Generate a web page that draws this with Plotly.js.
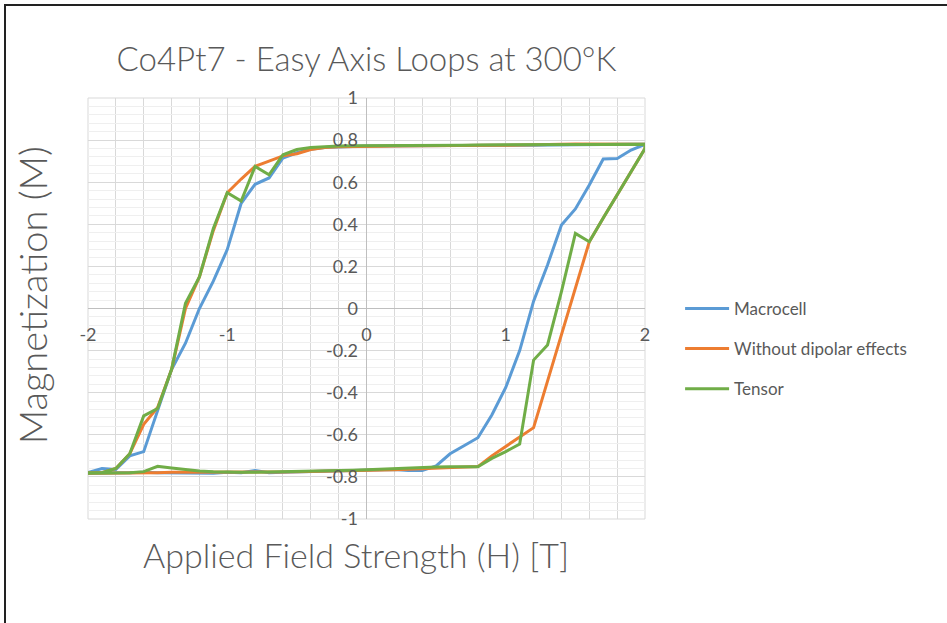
<!DOCTYPE html>
<html>
<head>
<meta charset="utf-8">
<script src="https://cdn.plot.ly/plotly-3.0.1.min.js"></script>
<style>
  html, body { margin:0; padding:0; background:#fff; }
  #wrap { position:relative; width:947px; height:623px; }
  #chart { position:absolute; left:0; top:0; width:947px; height:623px; }
  #frame { position:absolute; left:4px; top:4px; width:943px; height:619px;
           border-top:2px solid #222; border-left:2px solid #222; box-sizing:border-box; pointer-events:none; }
</style>
</head>
<body>
<div id="wrap"><div id="chart"></div><div id="frame"></div></div>
<script>
// Applied field H [T], -2 .. 2
const H = [-2.0,-1.9,-1.8,-1.7,-1.6,-1.5,-1.4,-1.3,-1.2,-1.1,-1.0,-0.9,-0.8,-0.7,-0.6,-0.5,-0.4,-0.3,-0.2,-0.1,0.0,
           0.1,0.2,0.3,0.4,0.5,0.6,0.7,0.8,0.9,1.0,1.1,1.2,1.3,1.4,1.5,1.6,1.7,1.8,1.9,2.0];

// Lower (ascending field) branches, listed from H=-2 to H=2
const macroLower = [-0.783,-0.78,-0.78,-0.78,-0.778,-0.78,-0.78,-0.78,-0.783,-0.783,-0.778,-0.78,-0.77,-0.78,-0.778,-0.776,-0.775,-0.773,-0.772,-0.77,-0.767,
                    -0.765,-0.765,-0.77,-0.77,-0.748,-0.69,-0.652,-0.614,-0.506,-0.375,-0.2,0.035,0.207,0.397,0.473,0.587,0.71,0.713,0.753,0.78];
const noDipLower = [-0.783,-0.783,-0.783,-0.783,-0.783,-0.78,-0.778,-0.778,-0.778,-0.78,-0.78,-0.78,-0.779,-0.778,-0.777,-0.776,-0.775,-0.774,-0.773,-0.772,-0.77,
                    -0.768,-0.766,-0.764,-0.762,-0.76,-0.757,-0.754,-0.751,-0.70,-0.656,-0.609,-0.566,-0.345,-0.124,0.097,0.317,0.43,0.54,0.65,0.76];
const tensorLower = [-0.783,-0.783,-0.783,-0.78,-0.775,-0.75,-0.758,-0.766,-0.772,-0.776,-0.778,-0.778,-0.778,-0.777,-0.776,-0.775,-0.774,-0.772,-0.77,-0.768,-0.766,
                     -0.763,-0.76,-0.757,-0.755,-0.753,-0.752,-0.752,-0.752,-0.712,-0.68,-0.644,-0.245,-0.173,0.08,0.357,0.317,0.43,0.54,0.65,0.76];

// Upper (descending field) branches, listed from H=-2 to H=2
const macroUpper = [-0.78,-0.76,-0.765,-0.70,-0.68,-0.48,-0.29,-0.165,0.0,0.13,0.28,0.50,0.59,0.62,0.715,0.74,0.757,0.765,0.768,0.77,0.772,
                    0.772,0.772,0.773,0.773,0.773,0.774,0.774,0.774,0.775,0.775,0.775,0.776,0.777,0.778,0.778,0.779,0.779,0.78,0.78,0.78];
const noDipUpper = [-0.78,-0.78,-0.76,-0.69,-0.55,-0.47,-0.29,0.0,0.15,0.37,0.55,0.615,0.675,0.70,0.725,0.735,0.755,0.765,0.768,0.77,0.771,
                    0.771,0.772,0.772,0.773,0.773,0.774,0.774,0.775,0.775,0.775,0.776,0.777,0.778,0.78,0.782,0.784,0.783,0.782,0.781,0.78];
const tensorUpper = [-0.78,-0.78,-0.76,-0.69,-0.51,-0.475,-0.29,0.025,0.15,0.38,0.55,0.51,0.675,0.635,0.73,0.755,0.765,0.77,0.772,0.773,0.774,
                     0.774,0.775,0.775,0.775,0.776,0.776,0.776,0.777,0.777,0.777,0.778,0.778,0.778,0.779,0.779,0.78,0.78,0.78,0.78,0.78];

// Tick labels (hyphen minus as in the original)
const xTickVals = [-2, -1, 0, 1, 2];
const xTickText = ["-2", "-1", "0", "1", "2"];
const yTickVals = [-1, -0.8, -0.6, -0.4, -0.2, 0, 0.2, 0.4, 0.6, 0.8, 1];
const yTickText = ["-1", "-0.8", "-0.6", "-0.4", "-0.2", "0", "0.2", "0.4", "0.6", "0.8", "1"];

const names = ["Macrocell", "Without dipolar effects", "Tensor"];
const colors = ["#5B9BD5", "#ED7D31", "#70AD47"];
const lowers = [macroLower, noDipLower, tensorLower];
const uppers = [macroUpper, noDipUpper, tensorUpper];

const Hrev = H.slice().reverse();
const traces = names.map((n, i) => ({
  type: "scatter", mode: "lines", name: n,
  x: H.concat(Hrev),
  y: lowers[i].concat(uppers[i].slice().reverse()),
  line: { color: colors[i], width: 3 },
  legendgroup: "g" + i,
  hoverinfo: "skip"
}));

const fontFam = "Lato, 'Open Sans', sans-serif";
const grey = "#595959";

const layout = {
  width: 947, height: 623,
  margin: { l: 88, r: 302, t: 98, b: 104 },
  paper_bgcolor: "#fff", plot_bgcolor: "#fff",
  showlegend: true,
  title: { text: "Co4Pt7 - Easy Axis Loops at 300°K", x: 0.5, xref: "paper", y: 0.904, yref: "container", yanchor: "middle",
           font: { family: fontFam, size: 33, color: grey, weight: 300 } },
  xaxis: {
    range: [-2, 2], tickmode: "array", tickvals: xTickVals, ticktext: xTickText, anchor: "free", position: 0.5,
    showgrid: true, gridcolor: "#d9d9d9", gridwidth: 1,
    minor: { dtick: 0.2, tick0: 0, showgrid: true, gridcolor: "#d9d9d9", gridwidth: 1 },
    zeroline: true, zerolinecolor: "#bfbfbf", zerolinewidth: 1,
    showline: false, ticks: "outside", ticklen: 10, tickcolor: "rgba(0,0,0,0)",
    tickfont: { family: fontFam, size: 18, color: grey }, fixedrange: true
  },
  yaxis: {
    range: [-1, 1], tickmode: "array", tickvals: yTickVals, ticktext: yTickText, anchor: "free", position: 0.5,
    showgrid: true, gridcolor: "#d9d9d9", gridwidth: 1,
    minor: { dtick: 0.04, tick0: 0, showgrid: true, gridcolor: "#efefef", gridwidth: 1 },
    zeroline: true, zerolinecolor: "#bfbfbf", zerolinewidth: 1,
    showline: false, ticks: "outside", ticklen: 5, tickcolor: "rgba(0,0,0,0)",
    tickfont: { family: fontFam, size: 18, color: grey }, fixedrange: true
  },
  shapes: [
    { type: "rect", xref: "paper", yref: "paper", x0: 0, x1: 1, y0: 0, y1: 1, line: { color: "#d9d9d9", width: 1 }, layer: "below" }
  ],
  annotations: [
    { text: "Magnetization (M)", xref: "paper", yref: "paper", x: -0.1, y: 0.532, xanchor: "center", yanchor: "middle",
      textangle: -90, showarrow: false, font: { family: fontFam, size: 38, color: grey, weight: 300 } },
    { text: "Applied Field Strength (H) [T]", xref: "paper", yref: "paper", x: 0.481, y: -0.0855, xanchor: "center", yanchor: "middle",
      showarrow: false, font: { family: fontFam, size: 34, color: grey, weight: 300 } }
  ],
  legend: {
    x: 1.063, y: 0.404, xanchor: "left", yanchor: "middle",
    font: { family: fontFam, size: 17, color: grey },
    tracegroupgap: 15, itemwidth: 44, bgcolor: "rgba(0,0,0,0)"
  }
};

Plotly.newPlot("chart", traces, layout, { displayModeBar: false, staticPlot: true });
</script>
</body>
</html>
